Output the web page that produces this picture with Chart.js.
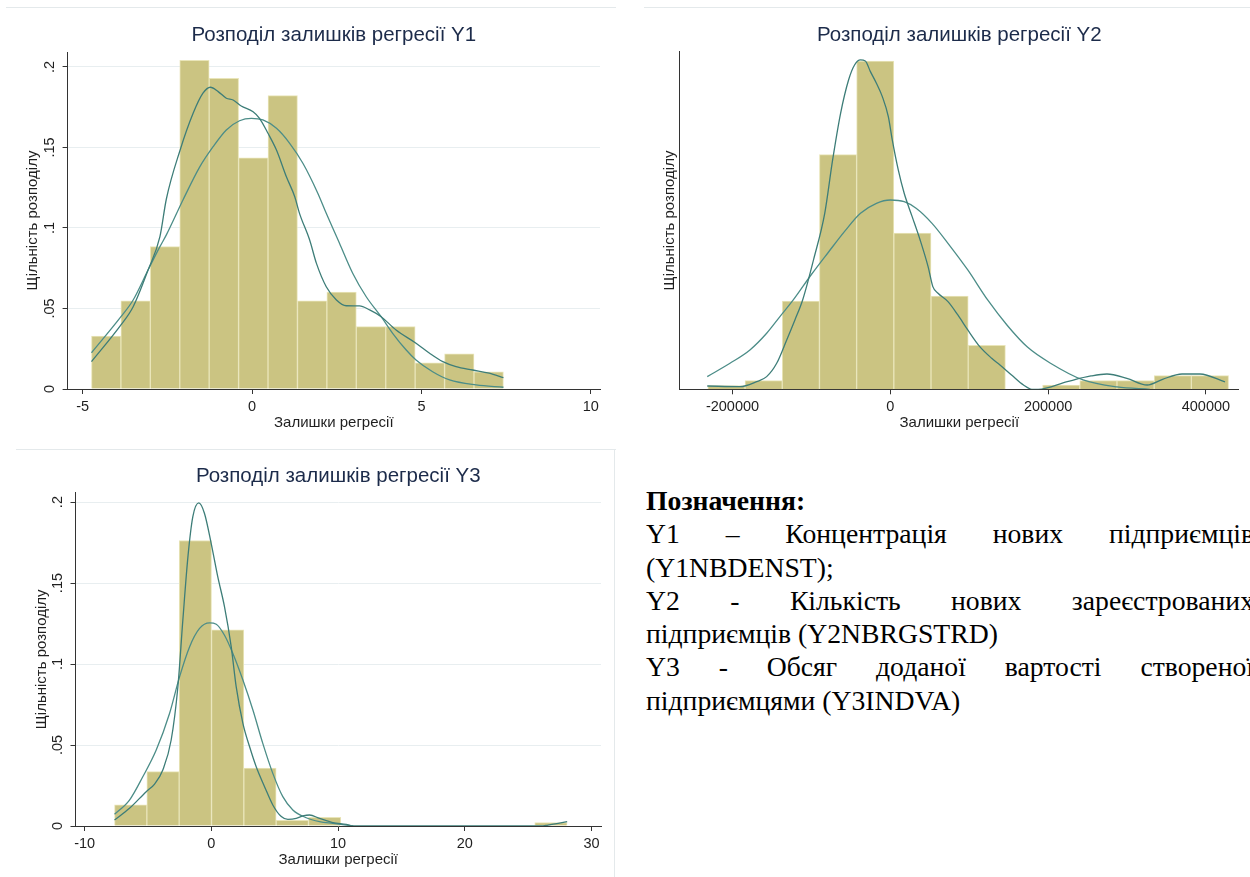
<!DOCTYPE html>
<html>
<head>
<meta charset="utf-8">
<script src="https://cdn.jsdelivr.net/npm/chart.js@4.4.1/dist/chart.umd.min.js"></script>
<style>
  html, body { margin: 0; padding: 0; background: #fff; width: 1250px; height: 877px; overflow: hidden; }
  .panel { position: absolute; }
  .rule { position: absolute; background: #e4e9eb; }
  #notes { position: absolute; left: 646px; top: 484px; font-family: "Liberation Serif", "Times New Roman", serif;
           font-size: 27.7px; line-height: 33.3px; color: #000; }
  #notes div { white-space: nowrap; }
  #notes .just { width: 608px; text-align: justify; text-align-last: justify; white-space: normal; }
</style>
</head>
<body>
<div class="rule" style="left:6px;top:7px;width:610px;height:1px"></div>
<div class="rule" style="left:644px;top:7px;width:606px;height:1px"></div>
<div class="rule" style="left:16px;top:449px;width:600px;height:1px"></div>
<div class="rule" style="left:614px;top:449px;width:1px;height:428px"></div>

<div class="panel" style="left:0;top:0"><canvas id="y1" width="620" height="440"></canvas></div>
<div class="panel" style="left:630px;top:0"><canvas id="y2" width="620" height="440"></canvas></div>
<div class="panel" style="left:0;top:440px"><canvas id="y3" width="620" height="437"></canvas></div>

<div id="notes">
  <div><b>Позначення:</b></div>
  <div class="just">Y1 – Концентрація нових підприємців</div>
  <div>(Y1NBDENST);</div>
  <div class="just">Y2 - Кількість нових зареєстрованих</div>
  <div>підприємців (Y2NBRGSTRD)</div>
  <div class="just">Y3 - Обсяг доданої вартості створеної</div>
  <div>підприємцями (Y3INDVA)</div>
</div>

<script>
// histogram bins (density) and density curves

// Y1
var y1BinStart = -4.74;
var y1BinWidth = 0.8685;
var y1Density = [0.0328, 0.0547, 0.0884, 0.2041, 0.193, 0.1436, 0.1822, 0.0547, 0.0602, 0.0387, 0.0387, 0.0163, 0.0219, 0.0106];
var y1KernelX = [-4.74, -3.87, -3.51, -3.07, -2.72, -2.53, -2.13, -1.74, -1.45, -1.23, -1.0, -0.76, -0.56, -0.32, 0.03, 0.22, 0.47, 0.72, 1.01, 1.26, 1.4, 1.7, 1.9, 2.19, 2.49, 2.78, 3.17, 3.47, 3.81, 4.25, 4.84, 5.24, 5.63, 6.02, 6.51, 7.0, 7.42];
var y1KernelY = [0.017, 0.0398, 0.0511, 0.0739, 0.0946, 0.118, 0.148, 0.1712, 0.1837, 0.1874, 0.1847, 0.1806, 0.1795, 0.1758, 0.1722, 0.1681, 0.1588, 0.1484, 0.132, 0.1194, 0.1091, 0.0925, 0.078, 0.0635, 0.0553, 0.0517, 0.0516, 0.0491, 0.0449, 0.0366, 0.0284, 0.0222, 0.017, 0.0139, 0.0118, 0.0098, 0.007];
var y1NormalX = [-4.74, -3.87, -3.51, -3.07, -2.72, -2.53, -2.04, -1.54, -1.15, -0.76, -0.37, -0.02, 0.32, 0.72, 1.11, 1.5, 1.94, 2.19, 2.58, 2.97, 3.37, 3.81, 4.15, 4.55, 4.84, 5.33, 5.83, 6.61, 7.42];
var y1NormalY = [0.0225, 0.0449, 0.0553, 0.0739, 0.0884, 0.0957, 0.1174, 0.1381, 0.1505, 0.1609, 0.1666, 0.1681, 0.1671, 0.1619, 0.1526, 0.1402, 0.1216, 0.1091, 0.0905, 0.0719, 0.0573, 0.0449, 0.0346, 0.0242, 0.018, 0.0107, 0.0056, 0.0025, 0.0011];
var y1XTicks = [-5, 0, 5, 10];
var y1YTicks = [0, 0.05, 0.1, 0.15, 0.2];

// Y2 (density in units of 1e-6, axis is unlabelled)
var y2BinStart = -231230;
var y2BinWidth = 47139;
var y2Density = [0.077, 0.183, 1.862, 4.947, 6.921, 3.295, 1.967, 0.928, null, 0.091, 0.183, 0.183, 0.288, 0.288];
var y2KernelX = [-232000, -190600, -169400, -156700, -144000, -131300, -120900, -111100, -97000, -83100, -73100, -63000, -52900, -45300, -37800, -31700, -25200, -17600, -10100, -2500, 2500, 10100, 17600, 27700, 37800, 47900, 53900, 60500, 73100, 85600, 98200, 113400, 128500, 139000, 153700, 168800, 179400, 187400, 224200, 254400, 274600, 299800, 325500, 345100, 369800, 392500, 424200];
var y2KernelY = [0.07, 0.056, 0.162, 0.267, 0.548, 1.04, 1.462, 1.883, 2.75, 3.71, 4.835, 5.818, 6.521, 6.837, 6.943, 6.922, 6.697, 6.451, 6.17, 5.748, 5.256, 4.624, 4.132, 3.64, 3.148, 2.586, 2.164, 2.024, 1.848, 1.567, 1.251, 0.899, 0.654, 0.513, 0.302, 0.091, 0, 0, 0.162, 0.281, 0.323, 0.232, 0.091, 0.211, 0.323, 0.323, 0.155];
var y2NormalX = [-232000, -203200, -177900, -156700, -139900, -123000, -100000, -78000, -57900, -37800, -17600, 0, 17600, 32700, 52900, 73100, 98200, 123400, 148600, 173800, 202500, 244300, 287200, 329000];
var y2NormalY = [0.267, 0.548, 0.829, 1.181, 1.532, 1.883, 2.42, 2.9, 3.33, 3.71, 3.921, 3.991, 3.956, 3.816, 3.499, 3.078, 2.516, 1.883, 1.34, 0.89, 0.555, 0.197, 0.049, 0];
var y2XTicks = [-200000, 0, 200000, 400000];

// Y3
var y3BinStart = -7.64;
var y3BinWidth = 2.551;
var y3Density = [0.013, 0.0336, 0.1763, 0.1211, 0.0357, 0.0035, 0.0053, null, null, null, null, null, null, 0.0021];
var y3KernelX = [-7.64, -6.46, -5.14, -4.48, -3.83, -3.17, -2.64, -2.25, -1.85, -1.46, -0.99, -0.54, -0.01, 0.51, 1.04, 1.57, 1.96, 2.49, 3.02, 3.54, 4.2, 4.85, 5.52, 6.04, 6.7, 7.22, 7.75, 8.54, 9.59, 10.65, 11.2, 26.0, 26.57, 28.08];
var y3KernelY = [0.0037, 0.0109, 0.0212, 0.0259, 0.0346, 0.0531, 0.086, 0.127, 0.166, 0.191, 0.1995, 0.193, 0.1744, 0.1538, 0.1353, 0.1106, 0.086, 0.0634, 0.0489, 0.0366, 0.0243, 0.013, 0.0058, 0.0041, 0.0047, 0.0062, 0.0068, 0.0047, 0.0021, 0.001, 0, 0, 0.0006, 0.0027];
var y3NormalX = [-7.64, -6.46, -5.41, -4.35, -3.3, -2.51, -1.72, -0.93, -0.14, 0.39, 1.04, 1.7, 2.49, 3.28, 4.06, 4.85, 5.64, 6.43, 7.49, 8.54, 9.59, 11.2];
var y3NormalY = [0.0072, 0.016, 0.0304, 0.0469, 0.0695, 0.0921, 0.1106, 0.122, 0.1254, 0.1246, 0.1178, 0.1065, 0.0901, 0.0716, 0.051, 0.0325, 0.0181, 0.0099, 0.0051, 0.0027, 0.0016, 0];
var y3XTicks = [-10, 0, 10, 20, 30];
var y3YTicks = [0, 0.05, 0.1, 0.15, 0.2];

var FONT = '"Liberation Sans", Arial, sans-serif';
var TEXT = '#1f1f1f';

function pts(xs, ys) {
  return xs.map(function(x, i) { return {x: x, y: ys[i]}; });
}

function histChart(id, o) {
  var bars = o.density.map(function(d, i) {
    return {x: o.binStart + (i + 0.5) * o.binWidth, y: d};
  });
  var yTickFmt = function(v) {
    return v === 0 ? '0' : String(+v.toFixed(2)).replace(/^0\./, '.');
  };
  return new Chart(document.getElementById(id), {
    type: 'bar',
    data: {
      datasets: [
        { type: 'line', data: pts(o.kx, o.ky), borderColor: '#3d7d78', borderWidth: 1.3,
          pointRadius: 0, cubicInterpolationMode: 'monotone', fill: false },
        { type: 'line', data: pts(o.nx, o.ny), borderColor: '#4c8d88', borderWidth: 1.3,
          pointRadius: 0, cubicInterpolationMode: 'monotone', fill: false },
        { type: 'bar', data: bars, backgroundColor: '#cbc482', borderColor: '#e9e5b9',
          borderWidth: 1, barPercentage: 1, categoryPercentage: 1 }
      ]
    },
    options: {
      responsive: false,
      animation: false,
      devicePixelRatio: 1,
      layout: { padding: o.pad },
      plugins: {
        legend: { display: false },
        tooltip: { enabled: false },
        title: {
          display: true, text: o.title, color: '#1c2b4a', fullSize: false,
          font: { family: FONT, size: 20.5, weight: 'normal' },
          padding: o.titlePad
        }
      },
      scales: {
        x: {
          type: 'linear', min: o.xMin, max: o.xMax, offset: false,
          afterBuildTicks: function(s) { s.ticks = o.xTicks.map(function(v) { return {value: v}; }); },
          afterFit: function(s) { s.height = o.xH; },
          grid: { display: true, drawOnChartArea: false, offset: false, tickLength: 5, tickColor: '#333' },
          border: { color: '#333', width: 1 },
          ticks: { color: TEXT, font: { family: FONT, size: 14.5 }, padding: o.xTickPad,
                   maxRotation: 0, autoSkip: false, callback: function(v) { return String(v); } },
          title: { display: true, text: 'Залишки регресії', color: TEXT,
                   font: { family: FONT, size: 15 }, padding: { top: 0, bottom: o.xTitlePad } }
        },
        y: {
          type: 'linear', min: 0, max: o.yMax,
          afterBuildTicks: function(s) { s.ticks = (o.yTicks || []).map(function(v) { return {value: v}; }); },
          afterFit: function(s) { s.width = o.yW; },
          grid: { display: !!o.yTicks, color: '#e8eef0', tickLength: 5, tickColor: '#333' },
          border: { color: '#333', width: 1 },
          ticks: { display: !!o.yTicks, color: TEXT, font: { family: FONT, size: 14.5 }, padding: o.yTickPad,
                   minRotation: 90, maxRotation: 90, crossAlign: 'center', callback: yTickFmt },
          title: { display: true, text: 'Щільність розподілу', color: TEXT,
                   font: { family: FONT, size: 15 }, padding: { top: o.yTitlePad, bottom: 0 } }
        }
      }
    }
  });
}

histChart('y1', {
  title: 'Розподіл залишків регресії Y1',
  binStart: y1BinStart, binWidth: y1BinWidth, density: y1Density,
  kx: y1KernelX, ky: y1KernelY, nx: y1NormalX, ny: y1NormalY,
  xMin: -5.445, xMax: 10.27, yMax: 0.2093, xTicks: y1XTicks, yTicks: y1YTicks,
  pad: { left: 20, right: 20, top: 0, bottom: 5 },
  titlePad: { top: 22.7, bottom: 4.7 },
  yW: 47.6, yTickPad: 2.8, yTitlePad: 4,
  xH: 46, xTickPad: 4, xTitlePad: 2.7
});

histChart('y2', {
  title: 'Розподіл залишків регресії Y2',
  binStart: y2BinStart, binWidth: y2BinWidth, density: y2Density,
  kx: y2KernelX, ky: y2KernelY, nx: y2NormalX, ny: y2NormalY,
  xMin: -266920, xMax: 441825, yMax: 7.117, xTicks: y2XTicks, yTicks: null,
  pad: { left: 30, right: 11.1, top: 0, bottom: 5 },
  titlePad: { top: 22.7, bottom: 4.4 },
  yW: 19.7, yTickPad: 0, yTitlePad: 0.7,
  xH: 45.7, xTickPad: 4.3, xTitlePad: 2.7
});

histChart('y3', {
  title: 'Розподіл залишків регресії Y3',
  binStart: y3BinStart, binWidth: y3BinWidth, density: y3Density,
  kx: y3KernelX, ky: y3KernelY, nx: y3NormalX, ny: y3NormalY,
  xMin: -10.72, xMax: 30.75, yMax: 0.2058, xTicks: y3XTicks, yTicks: y3YTicks,
  pad: { left: 20, right: 19, top: 0, bottom: 5 },
  titlePad: { top: 24.4, bottom: 3.7 },
  yW: 55.5, yTickPad: 2.8, yTitlePad: 12.7,
  xH: 46, xTickPad: 4.3, xTitlePad: 3
});
</script>
</body>
</html>
